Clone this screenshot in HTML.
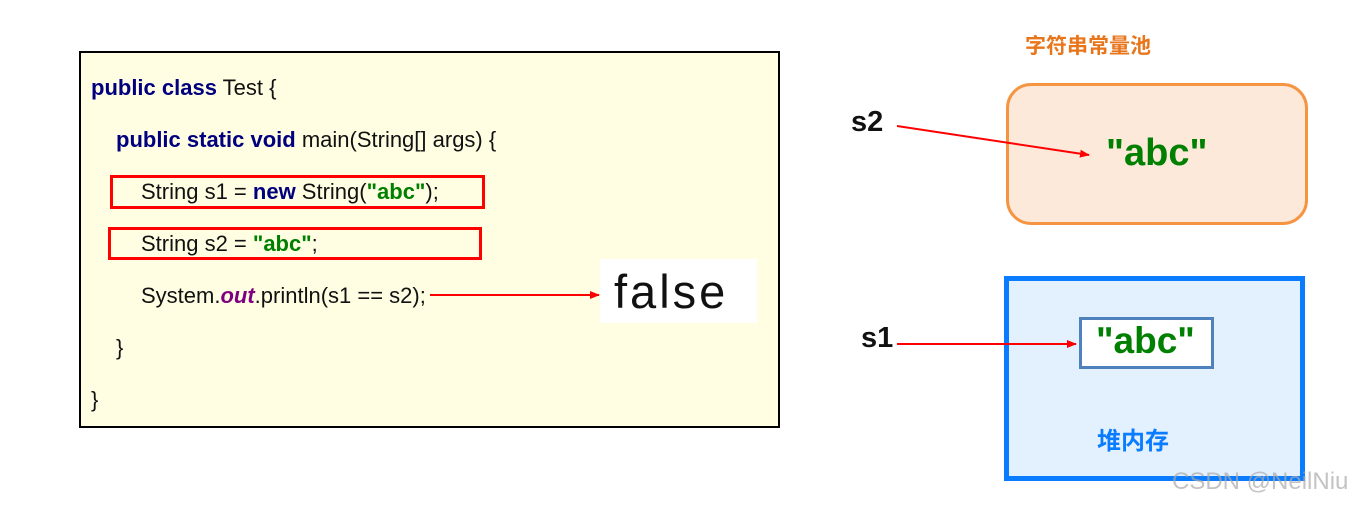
<!DOCTYPE html>
<html><head><meta charset="utf-8"><style>
body{margin:0;width:1361px;height:508px;background:#fff;position:relative;overflow:hidden;font-family:"Liberation Sans","Noto Sans CJK SC",sans-serif}
.a{position:absolute;white-space:nowrap}
.code{left:79px;top:51px;width:697px;height:373px;border:2px solid #000;background:#fffee3}
.ln{position:absolute;font-size:22px;color:#111;letter-spacing:0px}
.kw{color:#00007f;font-weight:bold}
.st{color:#007f00;font-weight:bold}
.rb{position:absolute;border:3px solid #f00}
</style></head><body>
<div class="a code"></div>
<div class="ln" style="left:91px;top:75px"><span class="kw">public class</span> Test {</div>
<div class="ln" style="left:116px;top:127px"><span class="kw">public static void</span> main(String[] args) {</div>
<div class="ln" style="left:141px;top:179px">String s1 = <span class="kw">new</span> String(<span class="st">"abc"</span>);</div>
<div class="ln" style="left:141px;top:231px">String s2 = <span class="st">"abc"</span>;</div>
<div class="ln" style="left:141px;top:283px">System.<i style="color:#7f007f;font-weight:bold">out</i>.println(s1 == s2);</div>
<div class="ln" style="left:116px;top:335px">}</div>
<div class="ln" style="left:91px;top:387px">}</div>
<div class="rb" style="left:110px;top:175px;width:369px;height:28px"></div>
<div class="rb" style="left:108px;top:227px;width:368px;height:27px"></div>
<div class="a" style="left:600px;top:259px;width:157px;height:64px;background:#fff"></div>
<div class="a" style="left:614px;top:264px;font-size:47px;color:#111;letter-spacing:3px">false</div>
<div class="a" style="left:1025px;top:30px;font-size:21px;font-weight:bold;color:#e8761d">字符串常量池</div>
<div class="a" style="left:1006px;top:83px;width:296px;height:136px;border:3px solid #f59441;border-radius:25px;background:#fde9da"></div>
<div class="a" style="left:1106px;top:132px;font-size:38px;font-weight:bold;color:#008000">"abc"</div>
<div class="a" style="left:851px;top:106px;font-size:29px;font-weight:bold;color:#111">s2</div>
<div class="a" style="left:1004px;top:276px;width:291px;height:195px;border:5px solid #0a7cff;background:#e3f1fe"></div>
<div class="a" style="left:1079px;top:317px;width:129px;height:46px;border:3px solid #4f81bd;background:#fff"></div>
<div class="a" style="left:1096px;top:320px;font-size:37px;font-weight:bold;color:#008000">"abc"</div>
<div class="a" style="left:861px;top:322px;font-size:29px;font-weight:bold;color:#111">s1</div>
<div class="a" style="left:1097px;top:421px;font-size:24px;font-weight:bold;color:#0a7cff">堆内存</div>
<div class="a" style="left:1172px;top:468px;font-size:24px;color:rgba(170,170,170,0.7)">CSDN @NeilNiu</div>
<svg class="a" style="left:0;top:0" width="1361" height="508">
<defs><marker id="m" markerWidth="10" markerHeight="8" refX="9" refY="4" orient="auto" markerUnits="userSpaceOnUse"><path d="M0,0L10,4L0,8z" fill="#f00"/></marker></defs>
<g stroke="#f00" stroke-width="2" fill="none">
<line x1="430" y1="295" x2="599" y2="295" marker-end="url(#m)"/>
<line x1="897" y1="126" x2="1089" y2="155" marker-end="url(#m)"/>
<line x1="897" y1="344" x2="1076" y2="344" marker-end="url(#m)"/>
</g></svg>
</body></html>
